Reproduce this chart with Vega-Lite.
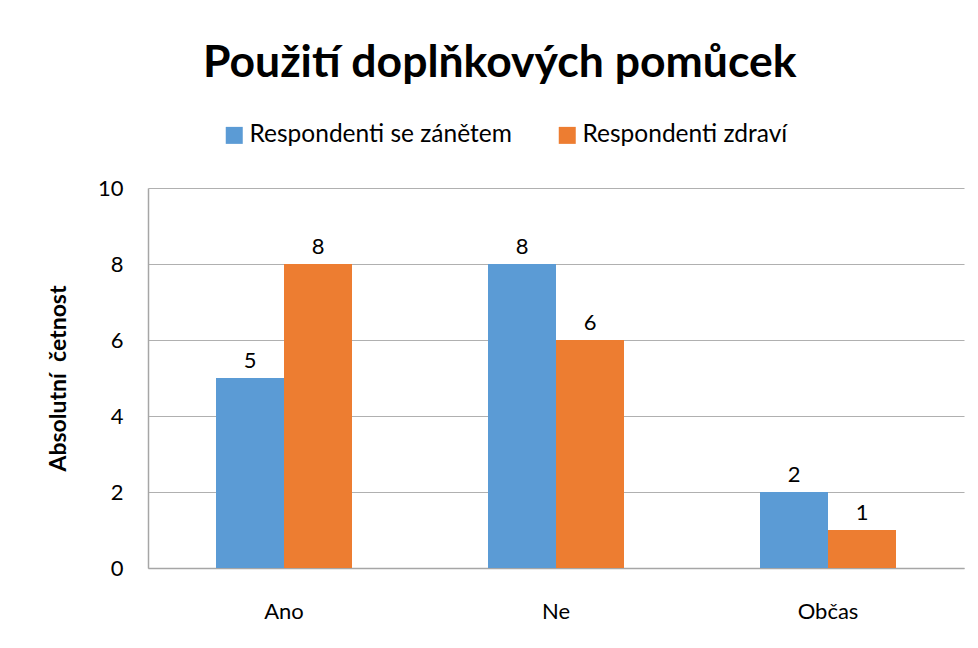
{
  "$schema": "https://vega.github.io/schema/vega-lite/v6.json",
  "width": 816,
  "height": 380,
  "padding": {"left": 47, "top": 40, "right": 13, "bottom": 20},
  "background": "white",
  "config": {
    "font": "Lato",
    "view": {"stroke": null},
    "axis": {"labelFont": "Lato", "titleFont": "Lato", "labelColor": "#000000", "titleColor": "#000000"}
  },
  "title": {
    "text": "Použití doplňkových pomůcek",
    "fontSize": 44.5,
    "fontWeight": "bold",
    "font": "Lato",
    "color": "#000000",
    "anchor": "middle",
    "frame": "bounds",
    "dx": -6,
    "offset": 37
  },
  "data": {
    "values": [
      {"kategorie": "Ano", "skupina": "Respondenti se zánětem", "pocet": 5},
      {"kategorie": "Ano", "skupina": "Respondenti zdraví", "pocet": 8},
      {"kategorie": "Ne", "skupina": "Respondenti se zánětem", "pocet": 8},
      {"kategorie": "Ne", "skupina": "Respondenti zdraví", "pocet": 6},
      {"kategorie": "Občas", "skupina": "Respondenti se zánětem", "pocet": 2},
      {"kategorie": "Občas", "skupina": "Respondenti zdraví", "pocet": 1}
    ]
  },
  "encoding": {
    "x": {
      "field": "kategorie",
      "type": "nominal",
      "sort": ["Ano", "Ne", "Občas"],
      "scale": {"paddingInner": 0.5, "paddingOuter": 0.25},
      "axis": {
        "title": null,
        "labelAngle": 0,
        "labelFontSize": 22,
        "labelPadding": 33,
        "ticks": false,
        "domainColor": "#a6a6a6",
        "domainWidth": 1.5
      }
    },
    "xOffset": {"field": "skupina", "type": "nominal", "sort": ["Respondenti se zánětem", "Respondenti zdraví"]},
    "y": {
      "field": "pocet",
      "type": "quantitative",
      "scale": {"domain": [0, 10]},
      "axis": {
        "title": "Absolutní\u00a0 četnost",
        "titleFontSize": 23,
        "titleFontWeight": "bold",
        "titlePadding": 27,
        "values": [0, 2, 4, 6, 8, 10],
        "labelFontSize": 22,
        "labelPadding": 25,
        "ticks": false,
        "domain": true,
        "domainColor": "#a6a6a6",
        "domainWidth": 1.5,
        "gridColor": "#b0b0b0",
        "gridWidth": 1.2
      }
    }
  },
  "layer": [
    {
      "mark": {"type": "bar"},
      "encoding": {
        "color": {
          "field": "skupina",
          "type": "nominal",
          "sort": ["Respondenti se zánětem", "Respondenti zdraví"],
          "scale": {"range": ["#5B9BD5", "#ED7D31"]},
          "legend": {
            "title": null,
            "orient": "none",
            "direction": "horizontal",
            "legendX": 74,
            "legendY": -65,
            "symbolType": "square",
            "symbolSize": 289,
            "symbolStrokeWidth": 0,
            "labelFontSize": 24.5,
            "labelFont": "Lato",
            "labelColor": "#000000",
            "labelLimit": 0,
            "columnPadding": 43,
            "labelOffset": 3
          }
        }
      }
    },
    {
      "mark": {"type": "text", "dy": -17, "fontSize": 22, "font": "Lato", "color": "#000000"},
      "encoding": {
        "text": {"field": "pocet", "type": "quantitative"}
      }
    }
  ]
}
